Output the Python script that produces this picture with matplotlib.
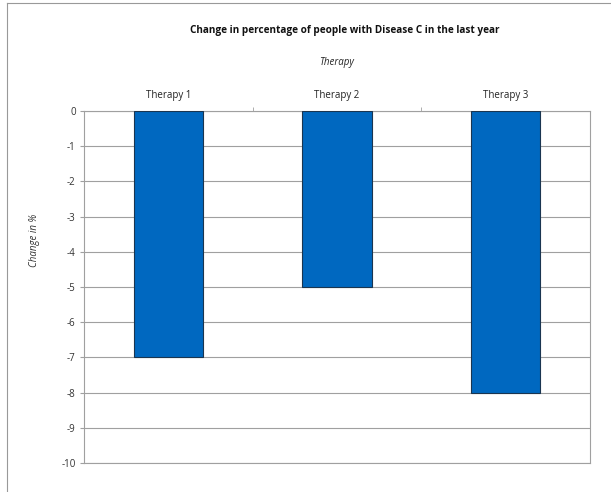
import numpy as np
import matplotlib.pyplot as plt
from matplotlib.lines import Line2D

categories = ['Therapy 1', 'Therapy 2', 'Therapy 3']
values = [-7, -5, -8]
y_ticks = list(range(0, -11, -1))

plt.rcParams['font.family'] = ['Open Sans', 'DejaVu Sans']

fig = plt.figure(figsize=(6.11, 4.92), dpi=100)
ax = fig.add_axes([84/611, 1 - 463/492, (590 - 84)/611, (463 - 111)/492])

x = np.arange(len(categories))
ax.bar(x, values, width=0.41, color='#0068C0', edgecolor='#1a3550', linewidth=0.8, zorder=3)

ax.set_xlim(-0.5, 2.5)
ax.set_ylim(-10, 0)
ax.set_yticks(y_ticks)
ax.set_yticklabels([str(v) for v in y_ticks], fontsize=7, color='#333333')
ax.yaxis.grid(True, color='#a0a0a0', linewidth=0.8, zorder=0)

ax.xaxis.tick_top()
ax.set_xticks(x)
ax.set_xticklabels(categories, fontsize=7, color='#222222')
ax.tick_params(axis='x', length=0, pad=7)
ax.set_xticks([0.5, 1.5], minor=True)
ax.tick_params(axis='x', which='minor', length=3, color='#a0a0a0')
ax.tick_params(axis='y', length=3, color='#a0a0a0', pad=3)

for side in ['left', 'right', 'top', 'bottom']:
    ax.spines[side].set_color('#a0a0a0')
    ax.spines[side].set_linewidth(0.8)

fig.text(34/611, 1 - 240/492, 'Change in %', rotation=90, ha='center', va='center',
         fontsize=7, style='italic', color='#333333')
ax.xaxis.set_label_position('top')
ax.set_xlabel('Therapy', fontsize=7, style='italic', color='#222222', labelpad=18)
fig.text(345/611, 1 - 30/492, 'Change in percentage of people with Disease C in the last year',
         ha='center', va='center', fontsize=7.2, fontweight='bold', color='#111111')

# outer chart frame
fig.add_artist(Line2D([6.5/611, 6.5/611], [0, 1 - 3/492], color='#999999', linewidth=0.8))
fig.add_artist(Line2D([6.5/611, 1], [1 - 3/492, 1 - 3/492], color='#999999', linewidth=0.8))

fig.savefig('out.png', dpi=100)
